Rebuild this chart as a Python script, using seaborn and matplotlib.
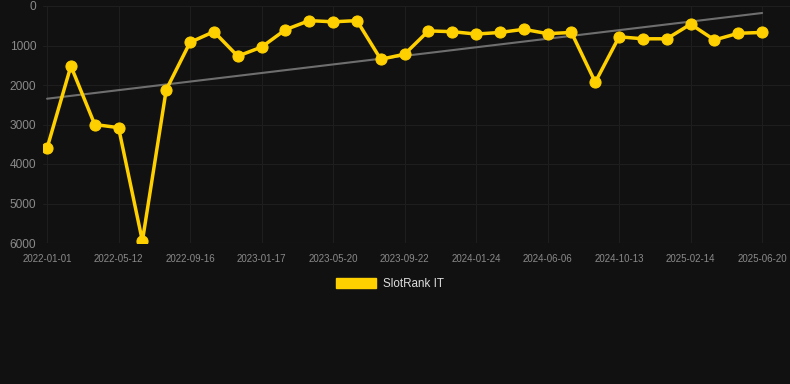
import numpy as np
import pandas as pd
import matplotlib
matplotlib.use("Agg")
import matplotlib.pyplot as plt
import matplotlib.patches as mpatches
import seaborn as sns

# values (rank, lower is better)
rank_values = [3600, 1520, 3000, 3080, 5950, 2120, 920, 650, 1270, 1040,
               600, 370, 400, 370, 1350, 1220, 630, 650, 710, 670,
               590, 700, 670, 1930, 780, 830, 830, 460, 860, 690, 670]
tick_labels = ["2022-01-01", "2022-05-12", "2022-09-16", "2023-01-17",
               "2023-05-20", "2023-09-22", "2024-01-24", "2024-06-06",
               "2024-10-13", "2025-02-14", "2025-06-20"]
series_name = "SlotRank IT"

df = pd.DataFrame({"idx": np.arange(len(rank_values)), "rank": rank_values})

bg = "#111111"
gold = "#FFD000"
sns.set_style("dark")
plt.rcParams["font.family"] = ["Liberation Sans", "DejaVu Sans"]

fig = plt.figure(figsize=(7.9, 3.84), dpi=100, facecolor=bg)
ax = fig.add_axes([43 / 790, 1 - 243 / 384, 747 / 790, 237 / 384])
ax.set_facecolor(bg)

# linear trend across the series
coef = np.polyfit(df["idx"], df["rank"], 1)
df["trend"] = np.polyval(coef, df["idx"])
sns.lineplot(data=df, x="idx", y="trend", ax=ax, color="#6e6e6e", linewidth=1.5)

sns.lineplot(data=df, x="idx", y="rank", ax=ax, color=gold, linewidth=2.5,
             marker="o", markersize=8, markeredgecolor=gold)

ax.set_xlim(-0.17, 31.17)
ax.set_ylim(6000, 0)
ax.set_xticks(np.arange(0, len(rank_values), 3))
ax.set_xticklabels(tick_labels)
ax.set_yticks([0, 1000, 2000, 3000, 4000, 5000, 6000])
ax.grid(True, color="#1e1e1e", linewidth=0.8)
ax.tick_params(axis="x", colors="#1e1e1e", labelcolor="#8a8a8a", labelsize=7,
               length=6, width=0.8, pad=2)
ax.tick_params(axis="y", colors="#1e1e1e", labelcolor="#8a8a8a", labelsize=8.6,
               length=0, pad=5)
for s in ax.spines.values():
    s.set_visible(False)
ax.axhline(6000, color="#262626", linewidth=0.8, zorder=0)
ax.set_xlabel("")
ax.set_ylabel("")

handle = mpatches.Patch(color=gold, label=series_name)
fig.legend(handles=[handle], loc="center", bbox_to_anchor=(390 / 790, 1 - 284 / 384),
           frameon=False, labelcolor="#dddddd", fontsize=8.4,
           handlelength=3.35, handleheight=0.95, handletextpad=0.6)

fig.savefig("out.png", dpi=100, facecolor=bg)
